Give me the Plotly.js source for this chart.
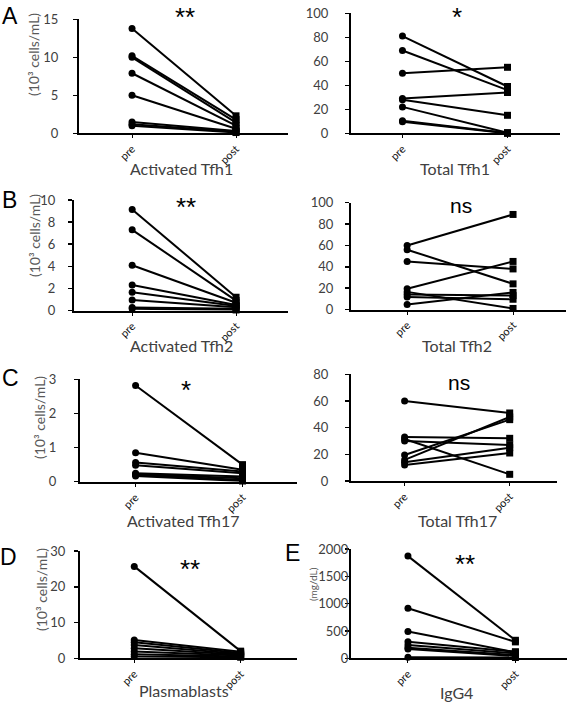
<!DOCTYPE html>
<html>
<head>
<meta charset="utf-8">
<script src="https://cdn.plot.ly/plotly-3.0.1.min.js"></script>
<style>html,body{margin:0;padding:0;background:#fff;}#chart{width:567px;height:702px;}</style>
</head>
<body>
<div id="chart"></div>
<script>
// ---- data ----
const timeLabels = ["pre", "post"];

const actTfh1Pre  = [13.8, 10.2, 10.0, 7.9, 5.0, 1.5, 1.2, 1.0];
const actTfh1Post = [2.3, 1.8, 1.4, 1.0, 0.6, 0.3, 0.2, 0.1];

const totTfh1Pre  = [81, 69, 50, 29, 28, 22, 10.5, 9.7];
const totTfh1Post = [39, 36, 55, 34, 15, 0.5, 0.3, 0];

const actTfh2Pre  = [9.15, 7.3, 4.1, 2.3, 1.65, 0.95, 0.27, 0.15];
const actTfh2Post = [1.2, 0.9, 0.7, 0.5, 0.4, 0.3, 0.15, 0.05];

const totTfh2Pre  = [60, 56, 45, 19.5, 16.5, 14, 11.8, 4.7];
const totTfh2Post = [89, 24, 38, 45, 1, 13, 9.6, 16];

const actTfh17Pre  = [2.82, 0.85, 0.56, 0.48, 0.25, 0.22, 0.2, 0.17];
const actTfh17Post = [0.5, 0.35, 0.3, 0.25, 0.15, 0.1, 0.05, 0.02];

const totTfh17Pre  = [60, 33, 31.5, 30, 19.5, 15.8, 14, 12];
const totTfh17Post = [51, 32, 5, 27, 46, 48, 25, 21];

const plasmaPre  = [25.7, 5.1, 4.5, 3.7, 2.8, 1.9, 1.1, 0.5];
const plasmaPost = [2.0, 1.8, 1.5, 1.2, 1.0, 0.8, 0.5, 0.3];

const igg4Pre  = [1870, 915, 490, 305, 245, 195, 170, 20];
const igg4Post = [330, 300, 110, 120, 90, 60, 40, 15];

const panelTitles = ["Activated Tfh1", "Total Tfh1", "Activated Tfh2", "Total Tfh2",
                     "Activated Tfh17", "Total Tfh17", "Plasmablasts", "IgG4"];
const significance = ["**", "*", "**", "ns", "*", "ns", "**", "**"];
const panelLetters = ["A", "B", "C", "D", "E"];
const unitCells = "(10³ cells/mL)";
const unitIgG4 = "(mg/dL)";

// ---- layout geometry (pixels) ----
const W = 567, H = 702;
const px = v => v / W;
const py = v => 1 - v / H;

const panels = [
  {pre: actTfh1Pre,  post: actTfh1Post,  l: 79,  r: 288, b: 133.3, t: 19.3,  xr: [-0.51, 1.5],  yr: [0, 15],   dt: 5,   so: 12},
  {pre: totTfh1Pre,  post: totTfh1Post,  l: 351, r: 560, b: 133.3, t: 13.3,  xr: [-0.49, 1.5],  yr: [0, 100],  dt: 20,  so: 14},
  {pre: actTfh2Pre,  post: actTfh2Post,  l: 74,  r: 288, b: 310.5, t: 200,   xr: [-0.56, 1.5],  yr: [0, 10],   dt: 2,   so: 10},
  {pre: totTfh2Pre,  post: totTfh2Post,  l: 351, r: 566, b: 309.5, t: 202.7, xr: [-0.53, 1.5],  yr: [0, 100],  dt: 20,  so: 9},
  {pre: actTfh17Pre, post: actTfh17Post, l: 80,  r: 297, b: 481.7, t: 379.3, xr: [-0.52, 1.51], yr: [0, 3],    dt: 1,   so: 15},
  {pre: totTfh17Pre, post: totTfh17Post, l: 351, r: 557, b: 481,   t: 374.3, xr: [-0.51, 1.45], yr: [0, 80],   dt: 20,  so: 14},
  {pre: plasmaPre,   post: plasmaPost,   l: 80,  r: 297, b: 658.3, t: 551,   xr: [-0.51, 1.53], yr: [0, 30],   dt: 10,  so: 6},
  {pre: igg4Pre,     post: igg4Post,     l: 351, r: 567, b: 658.3, t: 549,   xr: [-0.53, 1.48], yr: [0, 2000], dt: 500, so: -6}
];

const traces = [];
const layout = {
  width: W, height: H,
  margin: {l: 0, r: 0, t: 0, b: 0},
  paper_bgcolor: "#fff", plot_bgcolor: "rgba(0,0,0,0)",
  showlegend: false,
  font: {family: "Lato, 'Open Sans', sans-serif", color: "#404040"},
  annotations: []
};

panels.forEach((p, i) => {
  const n = i + 1;
  const xa = n === 1 ? "x" : "x" + n;
  const ya = n === 1 ? "y" : "y" + n;
  // connecting lines
  const lx = [], ly = [];
  p.pre.forEach((v, k) => { lx.push(0, 1, null); ly.push(v, p.post[k], null); });
  traces.push({x: lx, y: ly, xaxis: xa, yaxis: ya, mode: "lines", type: "scatter",
               line: {color: "#000", width: 2}, cliponaxis: false, hoverinfo: "skip"});
  traces.push({x: p.pre.map(() => 0), y: p.pre, xaxis: xa, yaxis: ya, mode: "markers", type: "scatter",
               marker: {symbol: "circle", size: 7, color: "#000"}, cliponaxis: false});
  traces.push({x: p.post.map(() => 1), y: p.post, xaxis: xa, yaxis: ya, mode: "markers", type: "scatter",
               marker: {symbol: "square", size: 7, color: "#000"}, cliponaxis: false});

  layout["xaxis" + (n === 1 ? "" : n)] = {
    domain: [px(p.l), px(p.r)], range: p.xr, anchor: ya,
    tickmode: "array", tickvals: [0, 1], ticktext: timeLabels, tickangle: -45,
    tickfont: {size: 11, color: "#111", family: "Lato, sans-serif"},
    showline: true, linecolor: "#000", linewidth: 2,
    ticks: "outside", ticklen: 3, tickwidth: 1, tickcolor: "#000",
    showgrid: false, zeroline: false, fixedrange: true
  };
  layout["yaxis" + (n === 1 ? "" : n)] = {
    domain: [py(p.b), py(p.t)], range: p.yr, anchor: xa,
    dtick: p.dt, tick0: 0,
    tickfont: {size: 13, color: "#404040", family: "Lato, sans-serif"},
    showline: true, linecolor: "#000", linewidth: 2,
    ticks: "outside", ticklen: 4, tickwidth: 1.5, tickcolor: "#000",
    ticklabelstandoff: p.so,
    showgrid: false, zeroline: false, fixedrange: true
  };
});

function ann(text, x, y, font, extra) {
  layout.annotations.push(Object.assign({
    text: text, x: px(x), y: py(y), xref: "paper", yref: "paper",
    xanchor: "center", yanchor: "middle", showarrow: false, font: font
  }, extra || {}));
}

// x titles
const titlePos = [[181, 169], [455, 169], [181, 345], [457, 346], [183, 520], [457, 520], [184, 690], [456, 692]];
titlePos.forEach((t, i) => ann(panelTitles[i], t[0], t[1], {family: "Lato, sans-serif", size: 16, color: "#404040"}));

// significance labels
const sigPos = [[185, 17], [457, 17], [186, 207], [461, 206], [186, 390], [459, 382], [190, 569], [465, 564]];
sigPos.forEach((s, i) => {
  const isNs = significance[i] === "ns";
  ann(significance[i], s[0], s[1], {family: "'Liberation Sans', Arial, sans-serif", size: isNs ? 21 : 26, color: "#000"});
});

// panel letters
const letterPos = [[10, 16], [9, 200], [10, 378], [8, 557], [292, 553]];
letterPos.forEach((l, i) => ann(panelLetters[i], l[0], l[1], {family: "'Liberation Sans', Arial, sans-serif", size: 23, color: "#000"}));

// y titles
const yTitlePos = [[34, 55], [34, 236], [39, 418], [41, 590]];
yTitlePos.forEach(t => ann(unitCells, t[0], t[1], {family: "Lato, sans-serif", size: 14, color: "#595959"}, {textangle: -90}));
ann(unitIgG4, 313, 584, {family: "Lato, sans-serif", size: 10, color: "#595959"}, {textangle: -90});

Plotly.newPlot("chart", traces, layout, {staticPlot: true, displayModeBar: false});
</script>
</body>
</html>
